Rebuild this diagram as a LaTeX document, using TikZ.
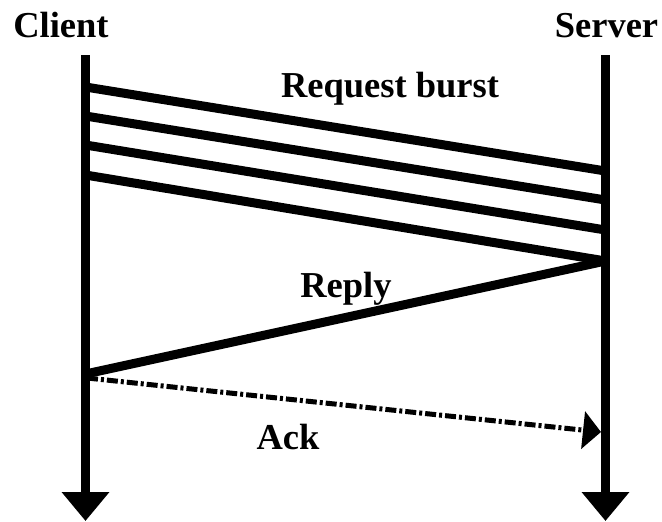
\documentclass[tikz,border=0pt]{standalone}
\usepackage{fontspec}
\setmainfont{Liberation Serif}
\usetikzlibrary{arrows.meta}
\tikzset{
  lbl/.style={font=\fontsize{36.5}{40}\selectfont\bfseries, inner sep=0pt, anchor=base},
  lifeline/.style={line width=9pt, -{Triangle[width=46pt,length=29pt]}},
  msg/.style={line width=9pt},
  ackmsg/.style={line width=5pt, dash pattern=on 11pt off 3pt on 3pt off 3pt, -{Triangle[width=37pt,length=18pt]}}
}
\begin{document}
\begin{tikzpicture}[x=1pt,y=-1pt]
\useasboundingbox (0,0) rectangle (662,522);
% labels
\node[lbl] (client) at (61,37) {Client};
\node[lbl] (server) at (606.5,37) {Server};
\node[lbl] (req) at (390,97) {Request burst};
\node[lbl] (reply) at (346,297) {Reply};
\node[lbl] (ack) at (288,449) {Ack};
% lifeline coordinates
\coordinate (ctop) at (85.5,55);
\coordinate (cbot) at (85.5,521);
\coordinate (stop) at (605.5,55);
\coordinate (sbot) at (605.5,521);
% message endpoints
\coordinate (c1) at (85.5,87);
\coordinate (c2) at (85.5,116);
\coordinate (c3) at (85.5,145);
\coordinate (c4) at (85.5,175);
\coordinate (s1) at (605.5,171);
\coordinate (s2) at (605.5,200);
\coordinate (s3) at (605.5,230);
\coordinate (s4) at (605.5,261);
\coordinate (cr) at (85.5,374);
\coordinate (ca) at (87,378);
\coordinate (sa) at (601,432);
% messages
\draw[msg] (c1) -- (s1);
\draw[msg] (c2) -- (s2);
\draw[msg] (c3) -- (s3);
\draw[msg] (c4) -- (s4);
\draw[msg] (s4) -- (cr);
\draw[ackmsg] (ca) -- (sa);
% lifelines
\draw[lifeline] (ctop) -- (cbot);
\draw[lifeline] (stop) -- (sbot);
\end{tikzpicture}
\end{document}
